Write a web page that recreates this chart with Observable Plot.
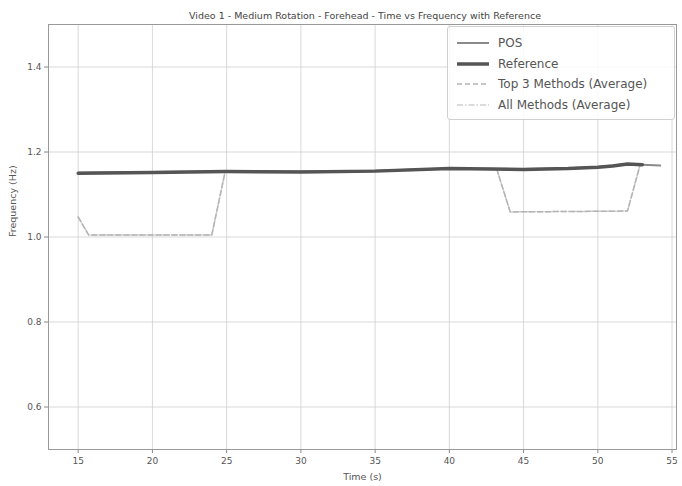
<!DOCTYPE html>
<html>
<head>
<meta charset="utf-8">
<script src="https://cdn.jsdelivr.net/npm/d3@7"></script>
<script src="https://cdn.jsdelivr.net/npm/@observablehq/plot@0.6"></script>
<style>
  body { margin: 0; background: #fff; font-family: "DejaVu Sans", sans-serif; }
  #wrap { position: relative; width: 682px; height: 486px; }
  #title { height: 22px; line-height: 32px; text-align: center; font-size: 9.5px; color: #444; padding-left: 48px; box-sizing: border-box; white-space: nowrap; }
  #legend { position: absolute; left: 447px; top: 26px; width: 228px; height: 94px; box-sizing: border-box;
            border: 1px solid #d0d0d0; border-radius: 3px; background: rgba(255,255,255,0.85); padding: 6px 8px; }
  .row { display: flex; align-items: center; height: 20.5px; font-size: 12px; color: #555; }
  .row svg { margin-right: 8px; }
</style>
</head>
<body>
<div id="wrap">
  <div id="title">Video 1 - Medium Rotation - Forehead - Time vs Frequency with Reference</div>
  <div id="chart"></div>
  <div id="legend"></div>
</div>
<script>
// Reference series
const refTime = [15, 20, 25, 30, 35, 40, 45, 48, 50, 51, 52, 53];
const refFreq = [1.150, 1.152, 1.154, 1.153, 1.155, 1.161, 1.159, 1.161, 1.164, 1.167, 1.172, 1.170];
// POS series
const posTime = [15, 20, 25, 30, 35, 40, 45, 48, 50, 51, 52, 53, 54.2];
const posFreq = [1.151, 1.153, 1.155, 1.154, 1.156, 1.161, 1.160, 1.162, 1.165, 1.168, 1.172, 1.170, 1.168];
// Top 3 methods (average)
const top3Time = [15, 15.7, 24.0, 24.9, 30, 35, 40, 43.2, 44.1, 48, 52.0, 52.85, 53];
const top3Freq = [1.047, 1.005, 1.005, 1.154, 1.153, 1.155, 1.161, 1.159, 1.059, 1.060, 1.061, 1.170, 1.170];
// All methods (average)
const allTime = [15, 15.7, 24.0, 24.9, 30, 35, 40, 43.2, 44.1, 48, 52.0, 52.85, 53];
const allFreq = [1.047, 1.005, 1.005, 1.154, 1.153, 1.155, 1.161, 1.159, 1.059, 1.060, 1.061, 1.170, 1.170];

const xTicks = [15, 20, 25, 30, 35, 40, 45, 50, 55];
const yTicks = [0.6, 0.8, 1.0, 1.2, 1.4];

const toRows = (t, f) => t.map((x, i) => ({x, y: f[i]}));

const series = [
  {name: "POS", data: toRows(posTime, posFreq), stroke: "#8a8a8a", width: 2, dash: null},
  {name: "Reference", data: toRows(refTime, refFreq), stroke: "#555555", width: 3.5, dash: null},
  {name: "Top 3 Methods (Average)", data: toRows(top3Time, top3Freq), stroke: "#b4b4b4", width: 1.5, dash: "5,3"},
  {name: "All Methods (Average)", data: toRows(allTime, allFreq), stroke: "#cfcfcf", width: 1.5, dash: "6,2,1.5,2"}
];

const chart = Plot.plot({
  width: 682,
  height: 462,
  marginTop: 2,
  marginBottom: 35,
  marginLeft: 48,
  marginRight: 6,
  style: {fontFamily: "DejaVu Sans, sans-serif", fontSize: "9px", color: "#555", background: "#fff"},
  x: {domain: [13, 55.3], ticks: xTicks, tickSize: 4, label: null},
  y: {domain: [0.5, 1.5], ticks: yTicks, tickSize: 4, tickFormat: d => d.toFixed(1), label: null},
  marks: [
    Plot.gridX(xTicks, {stroke: "#cfcfcf", strokeOpacity: 1, strokeWidth: 0.8}),
    Plot.gridY(yTicks, {stroke: "#cfcfcf", strokeOpacity: 1, strokeWidth: 0.8}),
    Plot.axisX({ticks: xTicks, tickSize: 4, tickPadding: 4, stroke: "#888", fill: "#555"}),
    Plot.axisY({ticks: yTicks, tickSize: 4, tickPadding: 3, stroke: "#888", fill: "#555", tickFormat: d => d.toFixed(1)}),
    ...[series[3], series[2], series[0], series[1]].map(s =>
      Plot.line(s.data, {x: "x", y: "y", stroke: s.stroke, strokeWidth: s.width, strokeDasharray: s.dash, curve: "linear"})
    ),
    Plot.frame({stroke: "#999", strokeWidth: 1}),
    Plot.text(["Time (s)"], {frameAnchor: "bottom", dy: 30, fontSize: 9.5, fill: "#555"}),
    Plot.text(["Frequency (Hz)"], {frameAnchor: "left", dx: -36, rotate: -90, fontSize: 9.5, fill: "#555"})
  ]
});
document.getElementById("chart").appendChild(chart);

const legend = document.getElementById("legend");
series.forEach(s => {
  const row = document.createElement("div");
  row.className = "row";
  row.innerHTML = `<svg width="34" height="10"><line x1="1" y1="5" x2="33" y2="5" stroke="${s.stroke}" stroke-width="${s.width}" ${s.dash ? `stroke-dasharray="${s.dash}"` : ""}/></svg><span>${s.name}</span>`;
  legend.appendChild(row);
});
</script>
</body>
</html>
